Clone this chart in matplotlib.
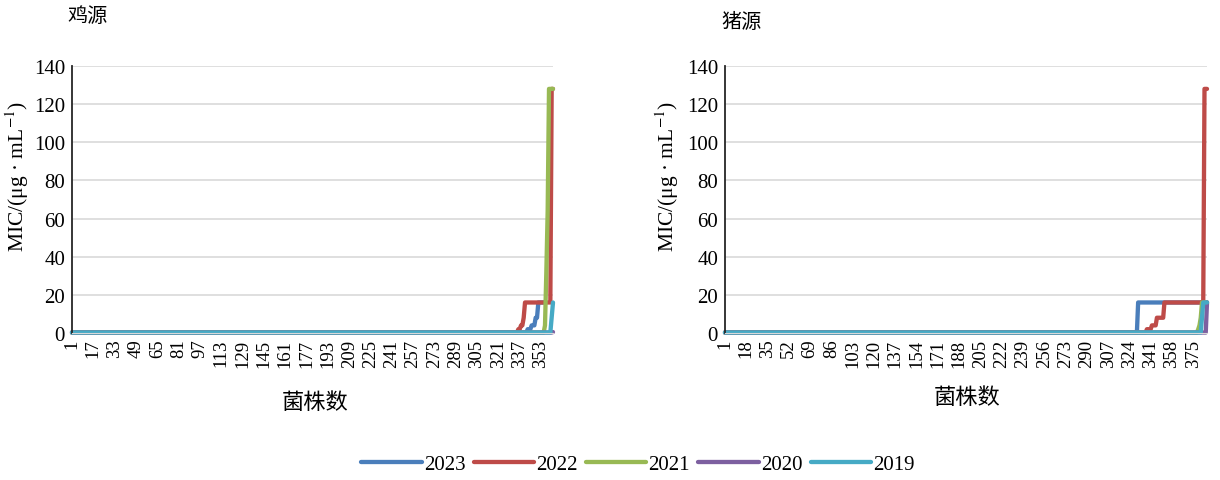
import numpy as np
import matplotlib
matplotlib.use("Agg")
import matplotlib.pyplot as plt

plt.rcParams["mathtext.fontset"] = "stix"

years = ["2023", "2022", "2021", "2020", "2019"]
colors = ["#4a7ebb", "#be4b48", "#98b954", "#7d60a0", "#46aac5"]

# MIC distributions per year: (MIC in μg/mL, number of isolates), ascending
chicken_2023 = [(0.25, 342), (2, 3), (4, 3), (8, 2), (16, 6)]
chicken_2022 = [(0.25, 335), (2, 2), (4, 2), (8, 1), (16, 20), (128, 2)]
chicken_2021 = [(0.25, 355), (4, 1), (32, 1), (64, 1), (128, 4)]
chicken_2020 = [(0.25, 361), (0.5, 1)]
chicken_2019 = [(0.25, 360), (8, 1), (16, 1)]

pig_2023 = [(0.25, 330), (16, 56)]
pig_2022 = [(0.25, 337), (2, 4), (4, 4), (8, 6), (16, 32), (128, 3)]
pig_2021 = [(0.25, 378), (2, 1), (4, 1), (8, 1), (16, 5)]
pig_2020 = [(0.25, 385), (16, 1)]
pig_2019 = [(0.25, 381), (8, 1), (16, 4)]

panels = [
    ("鸡源", [chicken_2023, chicken_2022, chicken_2021, chicken_2020, chicken_2019], 16),
    ("猪源", [pig_2023, pig_2022, pig_2021, pig_2020, pig_2019], 17),
]

y_ticks = [0, 20, 40, 60, 80, 100, 120, 140]

SERIF = ["Liberation Serif", "Noto Sans CJK SC"]
CJK = ["Noto Sans CJK SC", "Liberation Serif"]

fig = plt.figure(figsize=(12.2, 4.81), dpi=100)
axes_rects = [
    (72 / 1220, 147 / 481, 481 / 1220, 267 / 481),
    (725 / 1220, 147 / 481, 482 / 1220, 267 / 481),
]
title_pos = [(88 / 1220, 1 - 17 / 481), (742 / 1220, 1 - 22 / 481)]
xlabel_pos = [(315 / 1220, 1 - 403 / 481), (967 / 1220, 1 - 398 / 481)]
ylabel_x = [17 / 1220, 667 / 1220]

handles = []
for k, (title, dists, step) in enumerate(panels):
    ax = fig.add_axes(axes_rects[k])
    n = max(sum(c for _, c in d) for d in dists)
    for d, year, col in zip(dists, years, colors):
        vals = np.repeat([m for m, _ in d], [c for _, c in d])
        x = np.arange(1, len(vals) + 1)
        (ln,) = ax.plot(x, vals, color=col, lw=3.1, solid_capstyle="round",
                        solid_joinstyle="round", clip_on=False, label=year)
        if k == 0:
            handles.append(ln)
    ax.set_xlim(1, n)
    ax.set_ylim(0, 140)
    ax.set_yticks(y_ticks)
    ax.set_xticks(np.arange(1, n + 1, step))
    ax.set_xticklabels([str(v) for v in np.arange(1, n + 1, step)],
                       rotation=90, fontsize=13.5, family=SERIF)
    ax.set_yticklabels([str(v) for v in y_ticks], fontsize=15, family=SERIF)
    ax.tick_params(axis="both", length=0, pad=5)
    ax.tick_params(axis="x", pad=4)
    ax.grid(axis="y", color="#d9d9d9", lw=1.2)
    ax.set_axisbelow(True)
    for s in ("top", "right"):
        ax.spines[s].set_visible(False)
    ax.spines["bottom"].set_color("#d9d9d9")
    ax.spines["left"].set_color("#262626")
    ax.spines["left"].set_linewidth(1.3)

    fig.text(*title_pos[k], title, ha="center", va="center", fontsize=14.5, family=CJK)
    fig.text(*xlabel_pos[k], "菌株数", ha="center", va="center", fontsize=16, family=CJK)
    fig.text(ylabel_x[k], 1 - 176 / 481,
             "MIC/(μg · mL$^{-1}$)", rotation=90, ha="center", va="center",
             fontsize=15.5, family=SERIF)

fig.legend(handles=handles, labels=years, loc="center", ncol=5,
           bbox_to_anchor=(638 / 1220, 1 - 465 / 481), frameon=False,
           prop={"family": SERIF, "size": 15}, handlelength=2.9,
           handletextpad=0.1, columnspacing=0.4)

fig.savefig("out.png", dpi=100)
